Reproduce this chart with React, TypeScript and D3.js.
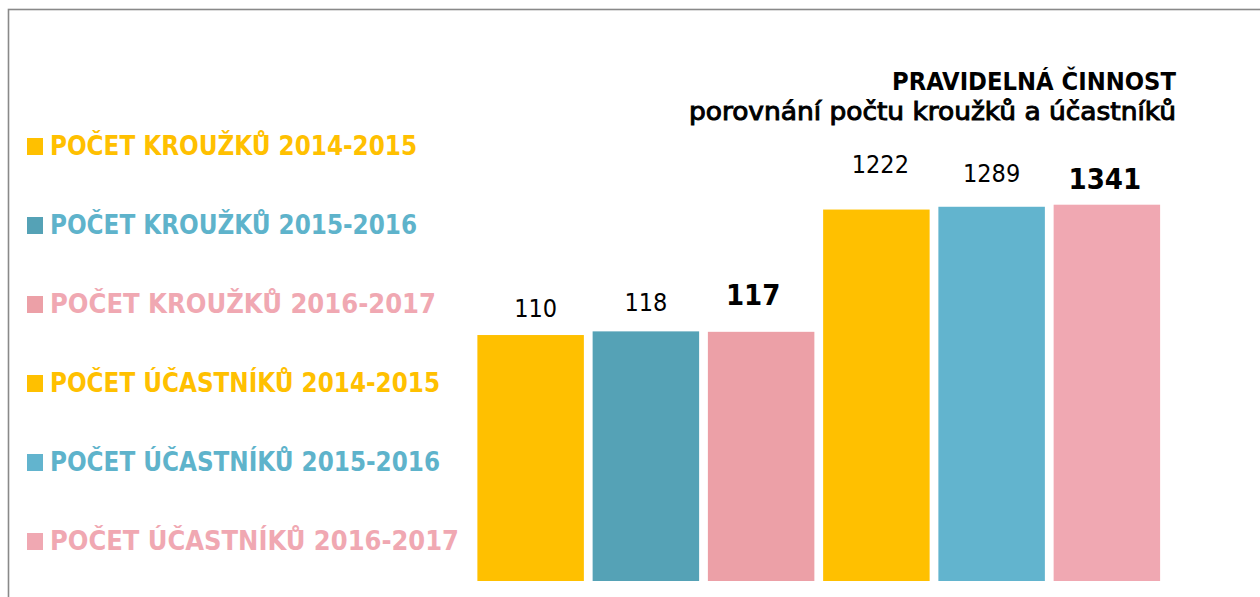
import React from "react";
import * as d3 from "d3";

// ---- data ----
const seriesNames = [
  "POČET KROUŽKŮ 2014-2015",
  "POČET KROUŽKŮ 2015-2016",
  "POČET KROUŽKŮ 2016-2017",
  "POČET ÚČASTNÍKŮ 2014-2015",
  "POČET ÚČASTNÍKŮ 2015-2016",
  "POČET ÚČASTNÍKŮ 2016-2017",
];
const values = [110, 118, 117, 1222, 1289, 1341];
const boldLabels = [false, false, true, false, false, true];
const titleText = "PRAVIDELNÁ ČINNOST";
const subtitleText = "porovnání počtu kroužků a účastníků";

// ---- styles ----
const barColors = ["#FFC000", "#55A2B6", "#ECA0A7", "#FFC000", "#62B4CE", "#F0A8B2"];
const legendTextColors = ["#FFC000", "#5EB3CB", "#F0A8B2", "#FFC000", "#5EB3CB", "#F0A8B2"];
const legendWidths = [367, 367, 386, 390, 390, 409];
const labelGap = [18, 20, 27, 37, 25, 16];
const labelNudgeX = [5, 0, -8, 4, 0, -2];
const FONT = "'DejaVu Sans Condensed', 'DejaVu Sans', sans-serif";

const W = 1260;
const H = 597;

export default function App() {
  const idx = values.map((_, i) => i);
  const x = d3.scaleBand<number>().domain(idx).range([473, 1164.5]).paddingInner(0.076).paddingOuter(0.038);
  const y = d3.scaleLog().domain([1, 10000]).range([580, 100]);
  const baseline = 581;
  const legendY = d3.scalePoint<number>().domain(idx).range([155, 550]);

  return (
    <div style={{ position: "absolute", left: 0, top: 0 }}>
      <svg width={W} height={H} style={{ display: "block", overflow: "hidden", background: "#fff" }} fontFamily={FONT}>
        <rect x={8.5} y={9.5} width={W + 20} height={H + 20} fill="#fff" stroke="#898989" strokeWidth={1.6} />
        <text x={1176} y={90} textAnchor="end" fontWeight="bold" fontSize={24} fill="#000" textLength={284} lengthAdjust="spacingAndGlyphs">
          {titleText}
        </text>
        <text x={1176} y={120} textAnchor="end" fontWeight="normal" fontSize={25} fill="#000" stroke="#000" strokeWidth={0.9} textLength={487} lengthAdjust="spacingAndGlyphs">
          {subtitleText}
        </text>
        {idx.map((i) => (
          <g key={"lg" + i}>
            <rect x={27} y={legendY(i)! - 17} width={16} height={17} fill={barColors[i]} />
            <text x={50} y={legendY(i)} fontWeight="bold" fontSize={27} fill={legendTextColors[i]} textLength={legendWidths[i]} lengthAdjust="spacingAndGlyphs">
              {seriesNames[i]}
            </text>
          </g>
        ))}
        {idx.map((i) => (
          <g key={"b" + i}>
            <rect x={x(i)} y={y(values[i])} width={x.bandwidth()} height={baseline - y(values[i])} fill={barColors[i]} />
            <text
              x={x(i)! + x.bandwidth() / 2 + labelNudgeX[i]}
              y={y(values[i]) - labelGap[i]}
              textAnchor="middle"
              fontWeight={boldLabels[i] ? "bold" : "normal"}
              fontSize={boldLabels[i] ? 29 : 25}
              fill="#000"
            >
              {values[i]}
            </text>
          </g>
        ))}
      </svg>
    </div>
  );
}
